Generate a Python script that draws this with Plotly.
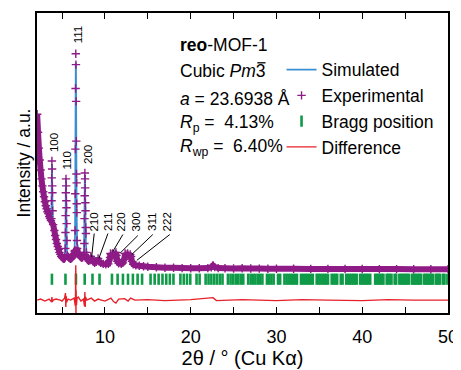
import plotly.graph_objects as go

# ---------------- data ----------------
# Experimental pattern: smooth profile (dense band of crosses)
exp_bg_2theta = [2.10, 2.20, 2.30, 2.40, 2.50, 2.60, 2.70, 2.80, 2.90, 3.00, 3.10, 3.20, 3.30, 3.40,
                 3.50, 3.60, 3.70, 3.96, 4.10, 4.20, 4.30, 4.40, 4.50, 4.60, 4.70, 4.80, 4.90, 5.00,
                 5.10, 5.20, 5.30, 5.66, 5.80, 5.90, 6.00, 6.10, 6.20, 6.30, 6.40, 6.48, 6.76, 6.85,
                 6.95, 7.10, 7.20, 7.30, 7.40, 7.50, 7.86, 7.95, 8.10, 8.25, 8.35, 8.45, 8.60, 8.80,
                 9.00, 9.20, 9.30, 9.50, 9.80, 10.10, 10.40, 10.60, 10.65, 10.70, 10.80, 10.90, 11.00,
                 11.10, 11.20, 11.28, 11.35, 11.45, 11.60, 11.90, 12.10, 12.25, 12.35, 12.45, 12.55,
                 12.65, 12.75, 12.85, 12.95, 13.05, 13.15, 13.30, 13.60, 14.00, 14.50, 15.00, 16.00,
                 17.00, 18.00, 19.00, 20.00, 21.00, 22.00, 22.40, 22.60, 22.80, 23.20, 24.00, 25.00,
                 26.00, 27.00, 28.00, 29.00, 30.00, 32.00, 34.00, 36.00, 38.00, 40.00, 42.00, 44.00,
                 46.00, 48.00, 50.00]
exp_bg_int = [2000, 1820, 1660, 1540, 1440, 1350, 1280, 1220, 1170, 1120, 1080, 1050, 1020, 1000,
              970, 950, 930, 890, 830, 780, 740, 700, 670, 640, 610, 590, 570, 560,
              550, 545, 560, 570, 555, 550, 545, 550, 560, 580, 600, 620, 650, 610,
              590, 570, 560, 555, 560, 575, 570, 540, 525, 530, 570, 540, 520, 505,
              515, 550, 520, 505, 495, 490, 495, 560, 600, 590, 560, 600, 580,
              560, 590, 610, 580, 520, 500, 495, 505, 540, 600, 590, 570,
              600, 580, 560, 590, 570, 520, 490, 480, 475, 470, 465, 460,
              455, 455, 452, 450, 450, 452, 460, 478, 462, 452, 450, 448,
              450, 448, 447, 446, 446, 445, 444, 444, 443, 443, 442, 442,
              441, 441, 440]

# Experimental pattern: points on the flanks of the sharp reflections
exp_pk_2theta = [3.76, 3.78, 3.80, 3.82, 3.84, 3.86, 3.88, 3.90,
                 5.38, 5.40, 5.42, 5.44, 5.46, 5.48, 5.50, 5.52, 5.54, 5.56, 5.58,
                 6.50, 6.52, 6.54, 6.56, 6.58, 6.60, 6.62, 6.64, 6.66, 6.68, 6.70, 6.71, 6.72, 6.74,
                 7.58, 7.60, 7.62, 7.64, 7.66, 7.68, 7.70, 7.72, 7.74, 7.76, 7.78, 7.82]
exp_pk_int = [950, 1130, 1360, 1530, 1450, 1280, 1210, 1030,
              650, 810, 980, 1210, 1350, 1280, 1130, 1060, 900, 730, 580,
              630, 830, 1200, 1650, 2260, 2610, 2500, 2130, 1730, 1400, 1310, 1100, 1010, 730,
              610, 700, 950, 1180, 1410, 1350, 1260, 1110, 1030, 860, 800, 610]

# Simulated pattern
sim_2theta = [2.10, 2.50, 3.00, 3.50, 3.70, 3.76, 3.80, 3.82, 3.84, 3.88, 3.94, 4.10, 4.60, 5.10,
              5.34, 5.40, 5.44, 5.46, 5.48, 5.52, 5.58, 5.80, 6.20, 6.45, 6.52, 6.56, 6.60, 6.62,
              6.66, 6.70, 6.76, 7.00, 7.40, 7.56, 7.62, 7.66, 7.68, 7.72, 7.78, 7.90, 8.35, 9.20,
              10.00, 10.65, 10.90, 11.28, 11.35, 11.60, 12.35, 12.65, 12.95, 13.30, 14.00, 20.00,
              22.60, 25.00, 50.00]
sim_int = [2000, 1440, 1120, 970, 930, 980, 1300, 1500, 1420, 1100, 940, 830, 640, 550,
           590, 780, 1250, 1360, 1250, 850, 620, 555, 560, 610, 800, 1600, 2520, 2500,
           1700, 1000, 700, 600, 560, 620, 1050, 1390, 1330, 1050, 700, 560, 570, 540,
           490, 590, 590, 630, 580, 500, 590, 590, 580, 490, 470, 450,
           475, 448, 440]

# Bragg positions (2θ, degrees)
bragg_2theta = [3.82, 5.40, 6.62, 7.64, 8.55, 9.37, 10.82, 11.48, 12.10, 12.69, 13.26, 13.81, 14.33,
                15.32, 15.80, 16.26, 16.71, 17.15, 17.57, 17.99, 18.80, 19.19, 19.57, 19.95, 20.68,
                21.04, 21.74, 22.08, 22.41, 22.75, 23.07, 23.40, 23.71, 24.34, 24.65, 24.95, 25.25,
                25.55, 25.84, 26.13, 26.70, 26.99, 27.27, 27.54, 27.82, 28.09, 28.36, 28.89, 29.15,
                29.41, 29.67, 30.18, 30.43, 30.93, 31.18, 31.42, 31.67, 31.91, 32.15, 32.39, 32.86,
                33.09, 33.33, 33.56, 33.79, 34.01, 34.24, 34.69, 34.92, 35.14, 35.36, 35.58, 35.80,
                36.01, 36.44, 36.66, 36.87, 37.08, 37.50, 37.71, 38.13, 38.33, 38.54, 38.74, 38.95,
                39.15, 39.35, 39.75, 39.95, 40.15, 40.35, 40.54, 40.74, 40.93, 41.51, 41.71, 41.90,
                42.09, 42.28, 42.47, 42.85, 43.03, 43.22, 43.41, 43.78, 43.96, 44.33, 44.51, 44.69,
                44.88, 45.06, 45.24, 45.42, 45.78, 45.95, 46.13, 46.31, 46.49, 46.66, 46.84, 47.19,
                47.36, 47.54, 47.71, 47.88, 48.05, 48.23, 48.57, 48.74, 48.91, 49.08, 49.42, 49.59,
                49.93]

# Difference (exp - sim), relative to its own baseline
diff_2theta = [2.10, 2.50, 3.00, 3.50, 3.78, 3.82, 3.86, 3.95, 4.30, 4.80, 5.00, 5.30, 5.40, 5.44,
               5.48, 5.52, 5.70, 6.00, 6.40, 6.56, 6.60, 6.62, 6.64, 6.68, 6.75, 6.90, 7.20, 7.50,
               7.62, 7.66, 7.70, 7.74, 7.90, 8.40, 8.80, 9.20, 9.60, 10.00, 10.70, 11.00, 11.28,
               11.60, 12.30, 12.70, 13.00, 13.50, 15.00, 17.00, 20.00, 22.60, 23.00, 26.00, 30.00,
               33.00, 36.00, 40.00, 43.00, 46.00, 50.00]
diff_val = [0, 10, -10, 10, -20, 30, -20, 0, 10, 0, -10, 20, 70, -70,
            40, -20, 10, 0, 20, -60, 350, -150, 100, -50, 20, 30, -10, 10,
            -60, 80, -70, 30, 0, 20, -10, 10, 0, -10, 20, -15, -30,
            10, 15, -10, 20, 0, 5, -5, 5, 25, -5, 5, -5,
            5, 0, -5, 5, 0, 0]

# Miller-index labels: text and label position
hkl_text = ["100", "110", "111", "200", "210", "211", "220", "300", "311", "222"]
hkl_label_x = [4.06, 5.63, 6.85, 8.02, 8.72, 10.29, 11.86, 13.60, 15.41, 17.21]
hkl_label_y = [1720, 1540, 2805, 1600, 920, 920, 920, 920, 920, 920]
# pointer lines for the minor reflections (label end -> peak)
ptr_from_x = [8.75, 10.35, 12.09, 13.84, 15.58, 17.56]
ptr_from_y = [800, 800, 790, 780, 790, 790]
ptr_to_x = [8.45, 9.30, 10.93, 11.74, 13.14, 13.72]
ptr_to_y = [563, 550, 620, 600, 590, 530]

x_tickvals = [10, 20, 30, 40, 50]
x_ticktext = ["10", "20", "30", "40", "50"]

# ---------------- styling ----------------
PURPLE = "#8e1b86"
BLUE = "#3b8fd1"
GREEN = "#0f9a48"
RED = "#e8202a"
FONT = "Liberation Sans, Arial, sans-serif"
BRAGG_Y = 340
DIFF_OFFSET = 130

fig = go.Figure()
fig.add_trace(go.Scatter(x=sim_2theta, y=sim_int, mode="lines", name="Simulated",
                         line=dict(color=BLUE, width=1.8, simplify=False)))
fig.add_trace(go.Scatter(x=exp_bg_2theta, y=exp_bg_int, mode="lines", showlegend=False,
                         line=dict(color=PURPLE, width=6, simplify=False), hoverinfo="skip"))
exp_all = sorted(zip(exp_bg_2theta + exp_pk_2theta, exp_bg_int + exp_pk_int))
fig.add_trace(go.Scatter(x=[p[0] for p in exp_all], y=[p[1] for p in exp_all], mode="markers",
                         name="Experimental",
                         marker=dict(symbol="cross-thin", size=6, color=PURPLE,
                                     line=dict(color=PURPLE, width=1.4))))
fig.add_trace(go.Scatter(x=bragg_2theta, y=[BRAGG_Y] * len(bragg_2theta), mode="markers",
                         name="Bragg position",
                         marker=dict(symbol="line-ns", size=8, color=GREEN,
                                     line=dict(color=GREEN, width=2.6))))
fig.add_trace(go.Scatter(x=diff_2theta, y=[v + DIFF_OFFSET for v in diff_val], mode="lines",
                         name="Difference", line=dict(color=RED, width=1.4, simplify=False)))

for t, x, y in zip(hkl_text, hkl_label_x, hkl_label_y):
    fig.add_annotation(x=x, y=y, xref="x", yref="y", text=t, textangle=-90, showarrow=False,
                       font=dict(size=11.5, color="black", family=FONT),
                       xanchor="center", yanchor="middle")
for x0, y0, x1, y1 in zip(ptr_from_x, ptr_from_y, ptr_to_x, ptr_to_y):
    fig.add_shape(type="line", xref="x", yref="y", x0=x0, y0=y0, x1=x1, y1=y1,
                  line=dict(color="black", width=1))

info_lines = ["<b>reo</b>-MOF-1",
              "Cubic <i>Pm</i>3",
              "<i>a</i> = 23.6938 Å",
              "<i>R</i><sub>p</sub> =  4.13%",
              "<i>R</i><sub>wp</sub> =  6.40%"]
info_y = [0.894, 0.805, 0.715, 0.632, 0.553]
for t, y in zip(info_lines, info_y):
    fig.add_annotation(x=0.342, y=y, xref="paper", yref="paper", text=t, showarrow=False,
                       xanchor="left", yanchor="middle",
                       font=dict(size=17.5, color="black", family=FONT))
# bar over the "3" of Pm-3
fig.add_shape(type="line", xref="paper", yref="paper", x0=0.536, x1=0.556, y0=0.834, y1=0.834,
              line=dict(color="black", width=1.3))

# the page body adds an 8 px offset, so the figure is 8 px smaller than the window
fig.update_layout(
    width=453, height=362,
    margin=dict(l=29, r=12, t=3, b=57),
    paper_bgcolor="white", plot_bgcolor="white",
    font=dict(family=FONT, color="black", size=18),
    showlegend=True,
    legend=dict(x=0.595, y=0.871, xanchor="left", yanchor="top",
                bgcolor="rgba(0,0,0,0)", borderwidth=0,
                font=dict(size=17.5, family=FONT, color="black"), tracegroupgap=0),
    xaxis=dict(range=[2.08, 50], tickvals=x_tickvals, ticktext=x_ticktext,
               ticks="inside", ticklen=6, tickwidth=1.3, tickcolor="black",
               ticklabelstandoff=7,
               minor=dict(tickvals=[5, 15, 25, 35, 45], ticks="inside", ticklen=6,
                          tickwidth=1.3, tickcolor="black", showgrid=False),
               showline=True, linecolor="black", linewidth=1.5, mirror="ticks",
               showgrid=False, zeroline=False,
               tickfont=dict(size=18, family=FONT),
               title=dict(text="2θ / ° (Cu Kα)", font=dict(size=20, family=FONT), standoff=3)),
    yaxis=dict(range=[0, 3020], showticklabels=False, ticks="",
               showline=True, linecolor="black", linewidth=1.5, mirror=True,
               showgrid=False, zeroline=False,
               title=dict(text="Intensity / a.u.", font=dict(size=17.5, family=FONT), standoff=0)),
)

fig.write_html("out.html")
